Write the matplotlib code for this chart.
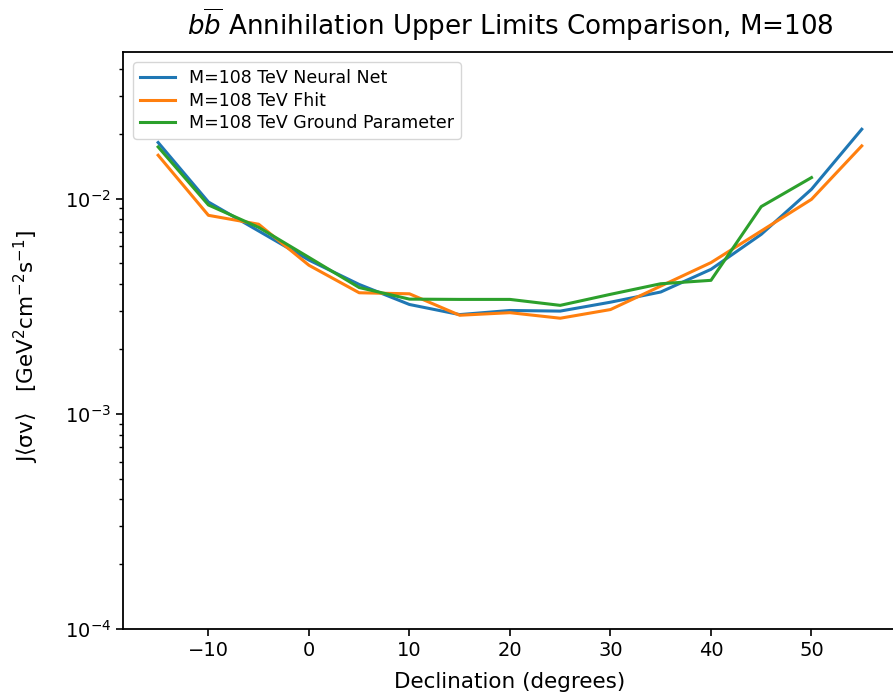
import numpy as np
import matplotlib
matplotlib.use('Agg')
import matplotlib.pyplot as plt

# declination points (degrees)
dec = [-15, -10, -5, 0, 5, 10, 15, 20, 25, 30, 35, 40, 45, 50, 55]
dec_ground = dec[:-1]

# upper limits
neural_net = [0.01822, 0.00964, 0.00707, 0.00518, 0.00399, 0.00322, 0.00289, 0.00302,
              0.00300, 0.00330, 0.00368, 0.00469, 0.00682, 0.01105, 0.0210]
fhit = [0.0159, 0.00836, 0.00760, 0.00490, 0.00365, 0.00361, 0.00287, 0.00295,
        0.00278, 0.00305, 0.00392, 0.00504, 0.00707, 0.00992, 0.01757]
ground = [0.01738, 0.00934, 0.00735, 0.00533, 0.00386, 0.00341, 0.00340, 0.00340,
          0.00319, 0.00359, 0.00402, 0.00417, 0.00918, 0.01252]

labels = ['M=108 TeV Neural Net', 'M=108 TeV Fhit', 'M=108 TeV Ground Parameter']

fig = plt.figure(figsize=(8.93, 6.94), dpi=100)
ax = fig.add_axes([0.1377, 0.0937, 0.8667, 0.8314])

ax.plot(dec, neural_net, color='#1f77b4', lw=2.2, label=labels[0])
ax.plot(dec, fhit, color='#ff7f0e', lw=2.2, label=labels[1])
ax.plot(dec_ground, ground, color='#2ca02c', lw=2.2, label=labels[2])

ax.set_yscale('log')
ax.set_ylim(1e-4, 4.8e-2)
ax.set_xlim(-18.5, 58.5)

ax.tick_params(labelsize=14, width=1.2, length=5)
ax.tick_params(which='minor', width=1.0, length=3)
for s in ax.spines.values():
    s.set_linewidth(1.3)

ax.set_xlabel('Declination (degrees)', fontsize=15.5)
ax.xaxis.set_label_coords(0.5, -0.075)
ax.set_ylabel(r'J$\langle\mathrm{\sigma v}\rangle$   [GeV$^2$cm$^{-2}$s$^{-1}$]', fontsize=15.5)
ax.yaxis.set_label_coords(-0.106, 0.49)
ax.set_title(r'$b\overline{b}$ Annihilation Upper Limits Comparison, M=108', fontsize=18.8, pad=12)
ax.legend(loc='upper left', fontsize=12.5, labelspacing=0.25, borderaxespad=0.6)

plt.savefig('out.png', dpi=100)
